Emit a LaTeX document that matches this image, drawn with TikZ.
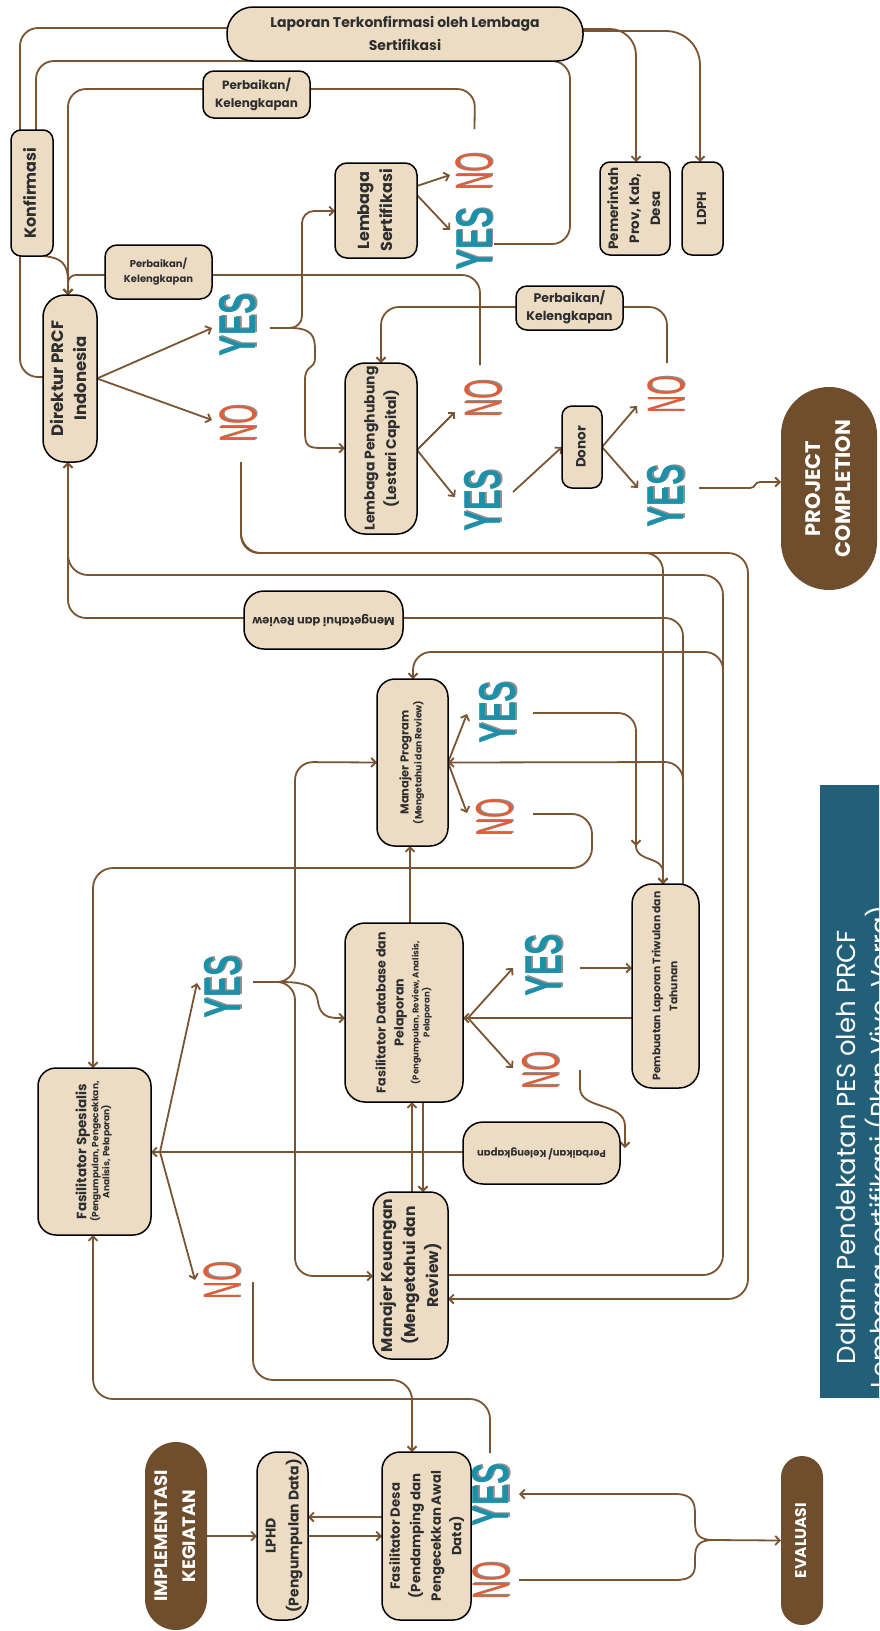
\documentclass[tikz,border=0pt]{standalone}
\usepackage{fontspec}
\usepackage{graphicx}
\usetikzlibrary{arrows.meta}
\setmainfont{Poppins}
\newfontfamily\ynf{Liberation Sans}
\definecolor{beige}{HTML}{ECDCC4}
\definecolor{brn}{HTML}{7A5533}
\definecolor{darkpill}{HTML}{6E4E2C}
\definecolor{tealp}{HTML}{22607A}
\definecolor{yesc}{HTML}{1B90A8}
\definecolor{noc}{HTML}{E05D37}
\definecolor{ynsh}{HTML}{8E8E8E}
\definecolor{txt}{HTML}{2E2E2E}
\pgfdeclarelayer{back}
\pgfdeclarelayer{bg}
\pgfsetlayers{back,bg,main}
% vertical (reading upwards) and upside-down box texts
\newcommand{\vt}[1]{\rotatebox{90}{\begin{tabular}{@{}c@{}}#1\end{tabular}}}
\newcommand{\ut}[1]{\rotatebox{180}{\begin{tabular}{@{}c@{}}#1\end{tabular}}}
% decision words with a soft grey shadow
\newcommand{\ynshadow}[2]{\makebox[0pt][l]{\hspace{1.5pt}\raisebox{-1.5pt}{\textcolor{ynsh}{#2}}}\textcolor{#1}{#2}}
\newcommand{\yeslab}{\scalebox{0.6}[1]{\bfseries\ynshadow{yesc}{YES}}}
\newcommand{\nolab}{\scalebox{0.48}[1]{\ynshadow{noc}{NO}}}
\begin{document}
\begin{tikzpicture}[x=1pt,y=-1pt,
  box/.style={draw=black, line width=1.5pt, fill=beige, inner sep=0pt, outer sep=0pt, text=txt},
  pill/.style={fill=darkpill, inner sep=0pt, outer sep=0pt, text=white},
  sz/.style 2 args={minimum width=#1pt, minimum height=#2pt},
  fs/.style 2 args={font=\bfseries\fontsize{#1}{#2}\selectfont},
  lbl/.style={rotate=90, inner sep=0pt, outer sep=0pt, font=\ynf\fontsize{52}{52}\selectfont},
  ln/.style={draw=brn, line width=1.8pt, rounded corners=18pt},
  arr/.style={ln, -{Straight Barb[length=4.5pt,width=9pt]}},
]
\useasboundingbox (0,0) rectangle (879,1631);
\begin{pgfonlayer}{back}
\fill[white] (0,0) rectangle (879,1631);
\end{pgfonlayer}

% ---------- boxes ----------
\node[box, sz={356}{54}, rounded corners=26pt, fs={14}{23}] (lap) at (405,34)
  {\begin{tabular}{@{}c@{}}Laporan Terkonfirmasi oleh Lembaga\\Sertifikasi\end{tabular}};
\node[box, sz={107}{47}, rounded corners=11pt, fs={12}{18}] (perb1) at (256.5,94.5)
  {\begin{tabular}{@{}c@{}}Perbaikan/\\Kelengkapan\end{tabular}};
\node[box, sz={42}{126}, rounded corners=10pt, fs={16}{20}] (konf) at (32,193) {\vt{Konfirmasi}};
\node[box, sz={82}{95}, rounded corners=12pt, fs={16}{23}] (lsert) at (376,210.5) {\vt{Lembaga\\Sertifikasi}};
\node[box, sz={107}{54}, rounded corners=12pt, fs={10}{14.5}] (perb2) at (158.5,272)
  {\begin{tabular}{@{}c@{}}Perbaikan/\\Kelengkapan\end{tabular}};
\node[box, sz={70}{93}, rounded corners=10pt, fs={13.5}{21}] (pem) at (635,208.5) {\vt{Pemerintah\\Prov, Kab,\\Desa}};
\node[box, sz={41}{93}, rounded corners=10pt, fs={13}{18}] (ldph) at (702.5,208.5) {\vt{LDPH}};
\node[box, sz={54}{167}, rounded corners=22pt, fs={16.5}{23}] (dir) at (70,378.5) {\vt{Direktur PRCF\\Indonesia}};
\node[box, sz={107}{44}, rounded corners=11pt, fs={12.5}{18.5}] (perb3) at (569.5,308)
  {\begin{tabular}{@{}c@{}}Perbaikan/\\Kelengkapan\end{tabular}};
\node[box, sz={72}{171}, rounded corners=20pt, fs={14}{21.5}] (lp) at (381,448.5) {\vt{Lembaga Penghubung\\(Lestari Capital)}};
\node[box, sz={40}{82}, rounded corners=10pt, fs={13.5}{18}] (donor) at (582,447) {\vt{Donor}};
\node[pill, sz={96}{203}, rounded corners=48pt, fs={21}{30}] (projc) at (829,488.5) {\vt{PROJECT\\COMPLETION}};
\node[box, sz={159}{58}, rounded corners=20pt, fs={11.5}{15}] (meng) at (323.5,620) {\ut{Mengetahui dan Review}};
\node[box, sz={71}{167}, rounded corners=18pt, fs={11.5}{13}] (mp) at (412.5,762.5)
  {\vt{Manajer Program\\{\fontsize{9.3}{11}\selectfont (Mengetahui dan Review)}}};
\node[box, sz={118}{179}, rounded corners=20pt, fs={12.7}{18}] (fdp) at (404,1012.5)
  {\vt{Fasilitator Database dan\\Pelaporan\\[-3pt]{\fontsize{8.5}{10}\selectfont (Pengumpulan, Review, Analisis,}\\[-7pt]{\fontsize{8.5}{10}\selectfont Pelaporan)}}};
\node[box, sz={67}{204}, rounded corners=20pt, fs={10.8}{17}] (pemb) at (665.5,986) {\vt{Pembuatan Laporan Triwulan dan\\Tahunan}};
\node[box, sz={113}{167}, rounded corners=18pt, fs={13.5}{17}] (fs) at (94.5,1151.5)
  {\vt{Fasilitator Spesialis\\[-5pt]{\fontsize{9}{10}\selectfont (Pengumpulan, Pengecekkan,}\\[-6pt]{\fontsize{9}{10}\selectfont Analisis, Pelaporan)}}};
\node[box, sz={157}{62}, rounded corners=20pt, fs={10}{14}] (perb4) at (541.5,1153) {\ut{Perbaikan/ Kelengkapan}};
\node[box, sz={75}{167}, rounded corners=18pt, fs={15.5}{23}] (mk) at (410.5,1275.5) {\vt{Manajer Keuangan\\(Mengetahui dan\\Review)}};
\node[box, sz={89}{168}, rounded corners=18pt, fs={13.3}{20.5}] (fd) at (426.5,1536) {\vt{Fasilitator Desa\\(Pendamping dan\\Pengecekkan Awal\\Data)}};
\node[box, sz={51}{168}, rounded corners=20pt, fs={14}{23}] (lphd) at (282.5,1536) {\vt{LPHD\\(Pengumpulan Data)}};
\node[pill, sz={62}{188}, rounded corners=31pt, fs={18}{28}] (impl) at (176,1536) {\vt{IMPLEMENTASI\\KEGIATAN}};
\node[pill, sz={42}{169}, rounded corners=21pt, fs={15.5}{20}] (eval) at (802,1540.5) {\vt{EVALUASI}};

% side panel, running off the right edge
\begin{scope}
\clip (0,0) rectangle (879,1631);
\node[fill=tealp, inner sep=0pt, outer sep=0pt, sz={70}{613}, anchor=north west] (panel) at (820,785) {};
\node[inner sep=0pt, text=white, font=\fontsize{26}{32}\selectfont] (paneltxt) at (866,1147)
  {\vt{Dalam Pendekatan PES oleh PRCF\\Lembaga sertifikasi (Plan Vivo, Verra)}};
\end{scope}

% ---------- decision words ----------
\node[lbl] (dirY) at (238.5,325) {\yeslab};
\node[lbl] (dirN) at (238.5,423.5) {\nolab};
\node[lbl] (lsN) at (474.5,171.5) {\nolab};
\node[lbl] (lsY) at (475,239) {\yeslab};
\node[lbl] (lpN) at (483.5,398.5) {\nolab};
\node[lbl] (lpY) at (483.5,500.5) {\yeslab};
\node[lbl] (dnN) at (666.5,395) {\nolab};
\node[lbl] (dnY) at (666.5,496) {\yeslab};
\node[lbl] (mpY) at (498.5,712.5) {\yeslab};
\node[lbl] (mpN) at (495,817.5) {\nolab};
\node[lbl] (fdpY) at (544.5,965.5) {\yeslab};
\node[lbl] (fdpN) at (541,1070.5) {\nolab};
\node[lbl] (fsY) at (223.5,987) {\yeslab};
\node[lbl] (fsN) at (222.5,1281) {\nolab};
\node[lbl] (fdY) at (491.5,1495) {\yeslab};
\node[lbl] (fdN) at (491.5,1580.5) {\nolab};

% ---------- connectors ----------
\begin{pgfonlayer}{bg}
% certification loop at the top
\draw[ln] (lap.west |- 0,28) -- (20,28) -- (konf.north -| 20,0);
\draw[ln] (lsY.south |- 0,244) -- (570,244) -- (570,61) -- (36,61) -- (konf.north -| 36,0);
\draw[ln] (lsN.east |- 475,129) -- (475,89) -- (perb1.east |- 0,89);
\draw[arr] (perb1.west |- 0,89) -- (68,89) -- (dir.north -| 68,0);
\draw[ln] (konf.south -| 20,0) -- (20,377) -- (dir.west |- 0,377);
\draw[arr, sharp corners] (konf.south -| 44,0) .. controls (60,258) and (68,262) .. (68,282) -- (dir.north -| 68,0);
\draw[ln] (480,365) -- (480,275) -- (perb2.east |- 0,275);
\draw[arr, rounded corners=8pt] (perb2.west |- 0,275) -- (68,275) -- (dir.north -| 68,0);
% director decision
\draw[arr] (dir.east) -- (212,328);
\draw[arr] (dir.east) -- (212,420);
\draw[arr, rounded corners=12pt] (270,328) -- (302,328) -- (302,211) -- (lsert.west |- 0,211);
\draw[arr, sharp corners] (270,328) -- (290,328) .. controls (312,328) and (315,336) .. (315,350) -- (315,358)
  .. controls (315,370) and (305,364) .. (305,380) -- (305,432)
  .. controls (305,446) and (308,448) .. (322,448) -- (lp.west |- 0,448);
\draw[arr] (lsert.east |- 0,186) -- (450,175);
\draw[arr] (lsert.east |- 0,195) -- (450,230);
\draw[arr, rounded corners=26pt] (lap.east |- 0,29) -- (636,29) -- (pem.north -| 636,0);
\draw[arr, rounded corners=34pt] (lap.east |- 0,31) -- (700,31) -- (ldph.north -| 700,0);
% bridging institution and donor
\draw[arr] (lp.east |- 0,450) -- (455,412);
\draw[arr] (lp.east |- 0,450) -- (455,497);
\draw[arr] (513,492) -- (donor.west);
\draw[arr] (donor.east) -- (637,406);
\draw[arr] (donor.east) -- (638,488);
\draw[arr, sharp corners] (699,488) -- (750,488) .. controls (756,488) and (754,482) .. (760,482) -- (projc.west |- 0,482);
\draw[ln] (667,363) -- (667,307) -- (perb3.east |- 0,307);
\draw[arr] (perb3.west |- 0,307) -- (381,307) -- (lp.north);
% long return routes
\draw[arr] (241,462) -- (241,553) -- (663,553) -- (pemb.north -| 663,0);
\draw[arr, rounded corners=20pt] (241,462) -- (241,553) -- (748,553) -- (748,1299) -- (mk.east |- 0,1299);
\draw[arr, rounded corners=20pt] (mk.east |- 0,1275) -- (723,1275) -- (723,575) -- (68,575) -- (dir.south -| 68,0);
\draw[arr] (723,700) -- (723,652) -- (413,652) -- (mp.north -| 413,0);
\draw[arr] (meng.west |- 0,618) -- (68,618) -- (dir.south -| 68,0);
\draw[ln] (pemb.north -| 683,0) -- (683,618) -- (meng.east |- 0,618);
\draw[arr] (pemb.north -| 683,0) -- (683,762) -- (mp.east);
% programme manager
\draw[arr] (mp.east) -- (467,714);
\draw[arr] (mp.east) -- (467,813);
\draw[arr, rounded corners=18pt] (533,713) -- (636,713) -- (636,846);
\draw[arr, sharp corners] (636,840) -- (636,846) .. controls (636,862) and (663,856) .. (663,872) -- (pemb.north -| 663,0);
\draw[arr, rounded corners=20pt] (533,814) -- (592,814) -- (592,868) -- (93,868) -- (fs.north -| 93,0);
% database facilitator and finance manager
\draw[arr] (fdp.north -| 410,0) -- (mp.south -| 410,0);
\draw[arr] (mk.north -| 412,0) -- (fdp.south -| 412,0);
\draw[arr] (fdp.south -| 423,0) -- (mk.north -| 423,0);
\draw[arr] (253,982) -- (295,982) -- (295,762) -- (mp.west);
\draw[arr] (253,982) -- (295,982) -- (295,1276) -- (mk.west |- 0,1276);
\draw[arr, sharp corners] (253,982) -- (282,982) .. controls (312,982) and (316,990) .. (318,1002)
  .. controls (320,1014) and (326,1018) .. (338,1018) -- (fdp.west |- 0,1018);
% specialist facilitator
\draw[arr] (perb4.west |- 0,1152) -- (fs.east |- 0,1152);
\draw[arr] (160,1152) -- (197,983);
\draw[arr] (160,1152) -- (195,1280);
% reporting
\draw[arr] (pemb.west |- 0,1018) -- (fdp.east |- 0,1018);
\draw[arr] (468,1018) -- (513,968);
\draw[arr] (468,1018) -- (513,1068);
\draw[arr] (580,968) -- (pemb.west |- 0,968);
\draw[arr, sharp corners] (580,1070) -- (580,1088) .. controls (580,1110) and (625,1102) .. (625,1126) -- (625,1148);
% village facilitator
\draw[arr, rounded corners=20pt] (253,1282) -- (253,1380) -- (412,1380) -- (fd.north -| 412,0);
\draw[arr, rounded corners=20pt] (490,1453) -- (490,1399) -- (93,1399) -- (fs.south -| 93,0);
\draw[arr] (impl.east) -- (lphd.west);
\draw[arr] (lphd.east) -- (fd.west);
\draw[arr] (fd.west |- 0,1517) -- (lphd.east |- 0,1517);
\draw[arr, sharp corners] (519,1580) -- (675,1580) .. controls (690,1580) and (695,1575) .. (695,1565) -- (695,1557)
  .. controls (695,1545) and (700,1540) .. (713,1540) -- (eval.west);
\draw[arr, sharp corners] (713,1540) .. controls (700,1540) and (695,1535) .. (695,1523) -- (695,1513)
  .. controls (695,1500) and (690,1494) .. (675,1494) -- (519,1494);
\end{pgfonlayer}
\end{tikzpicture}
\end{document}
